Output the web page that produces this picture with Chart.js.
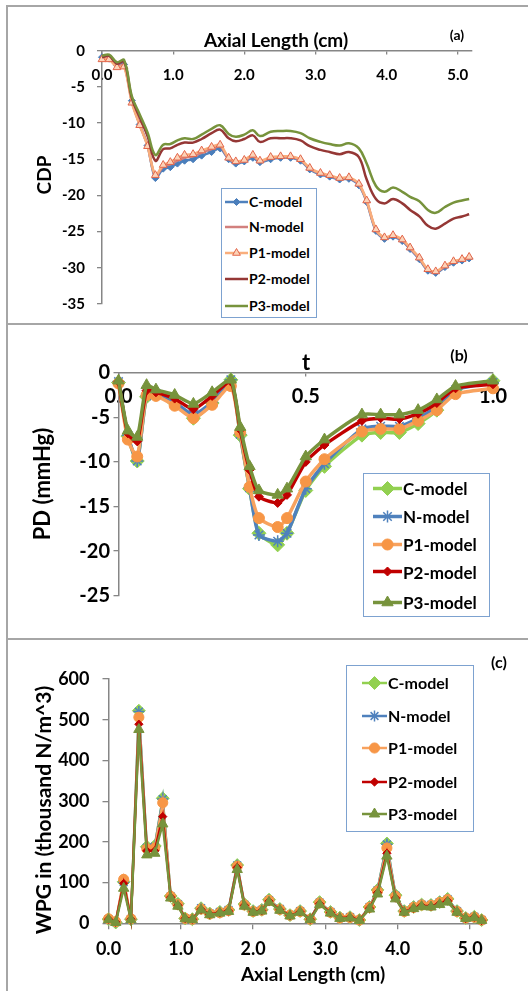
<!DOCTYPE html>
<html><head><meta charset="utf-8">
<script src="https://cdn.jsdelivr.net/npm/chart.js@4"></script>
<style>
html,body{margin:0;padding:0;background:#fff;}
body{width:528px;height:991px;position:relative;overflow:hidden;font-family:Lato,'Open Sans',sans-serif;}
.panel{position:absolute;left:6px;width:560px;border:2px solid #a6a6a6;box-sizing:border-box;}
canvas{position:absolute;left:0;}
.t{position:absolute;font-weight:bold;color:#000;white-space:nowrap;line-height:1;transform:translate(-50%,-50%);}
.vt{position:absolute;font-weight:bold;color:#000;white-space:nowrap;line-height:1;transform:translate(-50%,-50%) rotate(-90deg);}
.legend{position:absolute;border:1.5px solid #7da2d0;box-sizing:border-box;background:#fff;}
.lrow{position:absolute;display:flex;align-items:center;font-weight:bold;white-space:nowrap;line-height:1;transform:translateY(-50%);color:#000;}
.lrow svg{display:block;}
</style></head>
<body>
<div class="panel" style="top:5px;height:320px"></div>
<div class="panel" style="top:323px;height:317px"></div>
<div class="panel" style="top:638px;height:360px"></div>
<canvas id="ca" width="528" height="325" style="top:0"></canvas>
<canvas id="cb" width="528" height="315" style="top:325px"></canvas>
<canvas id="cc" width="528" height="351" style="top:640px"></canvas>

<div class="t" style="left:276px;top:39px;font-size:19px">Axial Length (cm)</div>
<div class="vt" style="left:43px;top:175px;font-size:19px">CDP</div>
<div class="t" style="left:457px;top:35px;font-size:14px">(a)</div>

<div class="t" style="left:306px;top:362px;font-size:22px">t</div>
<div class="vt" style="left:42px;top:484px;font-size:22px">PD (mmHg)</div>
<div class="t" style="left:459px;top:355px;font-size:16px">(b)</div>

<div class="t" style="left:313px;top:973px;font-size:19px">Axial Length (cm)</div>
<div class="vt" style="left:42px;top:810px;font-size:21px">WPG in (thousand N/m^3)</div>
<div class="t" style="left:499px;top:662px;font-size:16px">(c)</div>

<script>
// ---------- data ----------
const seriesNames = ['C-model','N-model','P1-model','P2-model','P3-model'];

// panel (a): CDP vs axial length
const axialX = [0,0.1,0.21,0.31,0.42,0.53,0.64,0.75,0.86,0.96,1.06,1.16,1.28,1.40,1.54,1.66,1.78,1.88,2.0,2.12,2.22,2.37,2.51,2.65,2.79,2.92,3.07,3.2,3.34,3.47,3.61,3.72,3.85,3.97,4.09,4.22,4.33,4.46,4.58,4.69,4.82,4.94,5.06,5.16];
const cdpC  = [-0.9,-1.1,-2.0,-1.9,-6.9,-10.2,-13.1,-17.6,-16.3,-16.1,-15.6,-15.2,-15.0,-14.5,-14.0,-13.5,-15.0,-15.6,-15.3,-14.8,-15.4,-15.0,-14.8,-14.8,-15.2,-16.4,-17.1,-17.4,-17.8,-17.7,-18.6,-20.9,-24.9,-26.0,-25.7,-26.3,-27.4,-28.8,-30.4,-30.7,-29.9,-29.3,-29.0,-28.7];
const cdpN  = [-1.0,-1.1,-2.1,-2.0,-7.0,-10.2,-13.1,-17.4,-16.0,-15.7,-15.2,-14.8,-14.6,-14.1,-13.6,-13.2,-14.9,-15.4,-15.2,-14.6,-15.3,-14.8,-14.7,-14.7,-15.1,-16.3,-17.0,-17.3,-17.7,-17.6,-18.5,-20.8,-24.8,-25.9,-25.6,-26.2,-27.3,-28.7,-30.3,-30.6,-29.8,-29.2,-28.9,-28.6];
const cdpP1 = [-1.2,-1.2,-2.3,-2.2,-7.2,-10.3,-13.2,-17.2,-15.8,-15.4,-14.8,-14.4,-14.3,-13.8,-13.3,-13.0,-14.8,-15.3,-15.1,-14.4,-15.2,-14.7,-14.6,-14.6,-15.0,-16.2,-16.9,-17.2,-17.6,-17.5,-18.4,-20.7,-24.7,-25.8,-25.5,-26.1,-27.2,-28.6,-30.2,-30.5,-29.7,-29.1,-28.8,-28.5];
const cdpP2 = [-0.9,-0.7,-1.8,-1.5,-6.6,-9.2,-11.8,-15.2,-13.6,-13.5,-13.0,-12.7,-12.7,-12.2,-11.4,-10.9,-12.1,-12.5,-12.2,-11.7,-12.6,-12.1,-12.1,-12.1,-12.4,-13.2,-13.7,-14.0,-14.3,-14.0,-14.7,-17.8,-20.5,-21.1,-20.5,-21.1,-22.0,-22.9,-24.2,-24.6,-23.9,-23.2,-22.9,-22.6];
const cdpP3 = [-0.7,-0.55,-1.6,-1.3,-6.3,-8.8,-11.3,-14.4,-13.0,-12.9,-12.4,-12.1,-12.2,-11.6,-10.8,-10.3,-11.5,-11.9,-11.6,-11.0,-11.8,-11.2,-11.1,-11.1,-11.4,-12.1,-12.6,-12.9,-13.1,-12.8,-13.5,-15.6,-18.7,-19.5,-18.9,-19.5,-20.2,-20.8,-22.0,-22.4,-21.6,-21.0,-20.7,-20.5];
const cdpXTicks = [0,1,2,3,4,5];
const cdpYTicks = [0,-5,-10,-15,-20,-25,-30,-35];

// panel (b): PD vs t
const tVals = [0,0.025,0.05,0.075,0.1,0.15,0.2,0.25,0.3,0.325,0.35,0.375,0.425,0.45,0.5,0.55,0.65,0.7,0.75,0.8,0.85,0.9,1.0];
const pdC  = [-1.1,-7.1,-9.9,-2.7,-2.4,-3.4,-5.1,-3.4,-0.8,-7.0,-13.0,-18.0,-19.3,-18.0,-13.2,-10.5,-7.0,-6.7,-6.7,-5.7,-4.2,-1.9,-0.9];
const pdN  = [-1.0,-7.0,-9.9,-2.6,-2.3,-3.3,-4.7,-3.3,-0.8,-6.9,-12.9,-18.2,-18.9,-18.0,-13.0,-10.2,-6.3,-6.0,-6.0,-5.1,-3.8,-1.9,-1.1];
const pdP1 = [-1.2,-7.5,-9.4,-2.5,-2.6,-3.7,-5.1,-3.6,-1.5,-6.7,-12.8,-16.3,-17.3,-16.3,-12.2,-9.7,-6.6,-6.3,-6.3,-5.4,-4.2,-2.4,-1.75];
const pdP2 = [-1.0,-6.8,-7.7,-2.0,-2.2,-2.9,-4.1,-2.6,-1.0,-6.4,-10.9,-13.9,-14.6,-13.7,-10.0,-8.1,-5.4,-5.1,-5.2,-4.6,-3.4,-1.75,-1.3];
const pdP3 = [-0.9,-6.5,-7.2,-1.4,-1.9,-2.5,-3.5,-2.2,-0.8,-6.1,-10.5,-13.2,-13.7,-13.0,-9.4,-7.5,-4.7,-4.7,-4.7,-4.2,-3.0,-1.5,-0.9];
const pdXTicks = [0,0.5,1];
const pdYTicks = [0,-5,-10,-15,-20,-25];

// panel (c): WPG vs axial length (thousand N/m^3)
const wpgC  = [10,2,102,10,522,188,190,307,67,48,12,10,37,24,28,33,143,47,30,33,58,35,20,30,10,52,28,14,15,8,40,82,196,69,30,40,46,45,52,60,30,13,16,8];
const wpgN  = [10,3,101,10,520,186,188,305,66,47,12,10,37,24,28,33,142,46,30,33,57,35,20,30,10,51,28,14,15,8,40,81,194,68,30,40,46,45,52,59,30,13,16,8];
const wpgP1 = [11,4,108,11,506,183,185,296,66,46,12,10,35,23,26,31,140,45,29,32,56,34,20,29,10,50,27,13,14,8,39,79,185,66,29,39,45,44,51,58,29,13,15,8];
const wpgP2 = [10,3,98,10,489,178,178,262,64,44,12,10,34,22,26,30,137,44,28,31,54,33,19,28,10,48,26,13,14,8,37,75,172,62,28,37,43,42,48,55,28,12,15,7];
const wpgP3 = [9,2,86,9,476,168,172,244,62,42,11,9,33,21,25,29,132,42,27,30,52,32,18,27,9,46,25,12,13,7,35,72,165,60,27,36,41,40,46,52,27,12,14,7];
const wpgXTicks = [0,1,2,3,4,5];
const wpgYTicks = [0,100,200,300,400,500,600];

// ---------- helpers ----------
Chart.defaults.font.family = 'Lato';
Chart.defaults.animation = false;
const AX = '#868686';
const pts = (xs, ys) => xs.map((x, i) => ({x: x, y: ys[i]}));

function scale(o){
  return {
    type:'linear', position:o.pos, min:o.min, max:o.max,
    afterBuildTicks: s => { s.ticks = o.ticks.map(v => ({value:v})); },
    afterFit: s => { if (o.w !== undefined) s.width = o.w; if (o.h !== undefined) s.height = o.h; },
    ticks:{callback:o.fmt, font:{family:'Lato',weight:'bold',size:o.fs}, color:'#000', padding:o.pad, autoSkip:false, maxRotation:0, minRotation:0},
    grid:{drawOnChartArea:false, tickLength:o.tl, color:AX, tickColor:AX, lineWidth:1.3},
    border:{display:true, color:AX, width:1.5}
  };
}

function ds(label, data, st, order){
  return Object.assign({label:label, data:data, order:order, clip:false, fill:false, spanGaps:true}, st);
}

function makeChart(id, datasets, xs, ys, padding){
  return new Chart(document.getElementById(id), {
    type:'line',
    data:{datasets:datasets},
    options:{
      responsive:false, animation:false,
      layout:{padding:padding},
      plugins:{legend:{display:false}, tooltip:{enabled:false}},
      scales:{x:xs, y:ys}
    }
  });
}

// ---------- styles ----------
const stA = [
  {borderColor:'#4F81BD', borderWidth:2.5, tension:0.3, pointStyle:'rectRot', pointRadius:3.5, pointBackgroundColor:'#4A7EBB', pointBorderColor:'#4A7EBB', pointBorderWidth:1},
  {borderColor:'#D2807E', borderWidth:2.5, tension:0.3, pointRadius:0},
  {borderColor:'#F9AE7C', borderWidth:2.5, tension:0.3, pointStyle:'triangle', pointRadius:4.5, pointBackgroundColor:'#FCD3B8', pointBorderColor:'#E2654A', pointBorderWidth:1},
  {borderColor:'#953735', borderWidth:2.5, tension:0.4, pointRadius:0},
  {borderColor:'#77933C', borderWidth:2.5, tension:0.4, pointRadius:0}
];
const stB = [
  {borderColor:'#92D050', borderWidth:3.5, tension:0.2, pointStyle:'rectRot', pointRadius:7, pointBackgroundColor:'#92D050', pointBorderColor:'#92D050', pointBorderWidth:1},
  {borderColor:'#4F81BD', borderWidth:3.5, tension:0.2, pointStyle:'star', pointRadius:6, pointBackgroundColor:'#4F81BD', pointBorderColor:'#4F81BD', pointBorderWidth:1.5},
  {borderColor:'#F8A25E', borderWidth:3.5, tension:0.2, pointStyle:'circle', pointRadius:5.5, pointBackgroundColor:'#F79646', pointBorderColor:'#F79646', pointBorderWidth:1},
  {borderColor:'#C00000', borderWidth:3.5, tension:0.2, pointStyle:'rectRot', pointRadius:4.5, pointBackgroundColor:'#C00000', pointBorderColor:'#C00000', pointBorderWidth:1},
  {borderColor:'#77933C', borderWidth:3.5, tension:0.2, pointStyle:'triangle', pointRadius:6.5, pointBackgroundColor:'#77933C', pointBorderColor:'#77933C', pointBorderWidth:1}
];
const stC = stB.map(s => Object.assign({}, s, {tension:0, borderWidth:2.5, pointRadius:s.pointRadius*0.92}));

// ---------- panel (a) ----------
const aSeries = [cdpC, cdpN, cdpP1, cdpP2, cdpP3];
makeChart('ca',
  aSeries.map((arr, i) => ds(seriesNames[i], pts(axialX, arr), stA[i], 5 - i)),
  scale({pos:{y:0}, min:0, max:5.2, ticks:cdpXTicks, fmt:v => v.toFixed(1), fs:15, pad:12, tl:3}),
  scale({pos:'left', min:-35, max:0, ticks:cdpYTicks, fmt:v => String(v), fs:15, pad:12, tl:5, w:102}),
  {left:0, top:50.7, right:56, bottom:11});

// ---------- panel (b) ----------
const bSeries = [pdC, pdN, pdP1, pdP2, pdP3];
makeChart('cb',
  bSeries.map((arr, i) => ds(seriesNames[i], pts(tVals, arr), stB[i], 5 - i)),
  scale({pos:{y:0}, min:0, max:1, ticks:pdXTicks, fmt:v => v.toFixed(1), fs:20, pad:9, tl:3}),
  scale({pos:'left', min:-25, max:0, ticks:pdYTicks, fmt:v => String(v), fs:20, pad:3.5, tl:5, w:118.5}),
  {left:0, top:47.7, right:35, bottom:44.3});

// ---------- panel (c) ----------
const cSeries = [wpgC, wpgN, wpgP1, wpgP2, wpgP3];
makeChart('cc',
  cSeries.map((arr, i) => ds(seriesNames[i], pts(axialX, arr), stC[i], 5 - i)),
  scale({pos:'bottom', min:0, max:5.2, ticks:wpgXTicks, fmt:v => v.toFixed(1), fs:18, pad:9.2, tl:6, h:67.7}),
  scale({pos:'left', min:0, max:600, ticks:wpgYTicks, fmt:v => String(v), fs:18, pad:13, tl:6, w:108.5}),
  {left:0, top:39, right:43.5, bottom:0});

// ---------- legends (HTML, real text) ----------
function markerSvg(st, w, h){
  const cx = w/2, cy = h/2, r = st.pointRadius || 0;
  const f = st.pointBackgroundColor, s = st.pointBorderColor, sw = st.pointBorderWidth || 1;
  let shape = '';
  if (r > 0) {
    if (st.pointStyle === 'rectRot') shape = `<polygon points="${cx},${cy-r} ${cx+r},${cy} ${cx},${cy+r} ${cx-r},${cy}" fill="${f}" stroke="${s}" stroke-width="${sw}"/>`;
    else if (st.pointStyle === 'circle') shape = `<circle cx="${cx}" cy="${cy}" r="${r}" fill="${f}" stroke="${s}" stroke-width="${sw}"/>`;
    else if (st.pointStyle === 'triangle') shape = `<polygon points="${cx},${cy-r} ${cx+0.866*r},${cy+0.5*r} ${cx-0.866*r},${cy+0.5*r}" fill="${f}" stroke="${s}" stroke-width="${sw}"/>`;
    else if (st.pointStyle === 'star') { const d = r*0.707; shape = `<g stroke="${s}" stroke-width="${sw}"><line x1="${cx}" y1="${cy-r}" x2="${cx}" y2="${cy+r}"/><line x1="${cx-r}" y1="${cy}" x2="${cx+r}" y2="${cy}"/><line x1="${cx-d}" y1="${cy-d}" x2="${cx+d}" y2="${cy+d}"/><line x1="${cx-d}" y1="${cy+d}" x2="${cx+d}" y2="${cy-d}"/></g>`; }
  }
  return `<svg width="${w}" height="${h}" style="overflow:visible"><line x1="0" y1="${cy}" x2="${w}" y2="${cy}" stroke="${st.borderColor}" stroke-width="${st.borderWidth}"/>${shape}</svg>`;
}
function legend(box, rows, styles, sampleX, sampleW, textGap, fs){
  const b = document.createElement('div');
  b.className = 'legend';
  Object.assign(b.style, {left:box[0]+'px', top:box[1]+'px', width:(box[2]-box[0])+'px', height:(box[3]-box[1])+'px'});
  document.body.appendChild(b);
  rows.forEach((cy, i) => {
    const r = document.createElement('div');
    r.className = 'lrow';
    r.style.left = sampleX + 'px'; r.style.top = cy + 'px'; r.style.fontSize = fs + 'px';
    r.innerHTML = markerSvg(styles[i], sampleW, 16) + `<span style="margin-left:${textGap}px">${seriesNames[i]}</span>`;
    document.body.appendChild(r);
  });
}
legend([221,188,317,318], [201.7,227.3,253.3,279,305.7], stA, 225, 23, 1, 14);
legend([363,473,490,617], [488.3,516,544,571.7,602.3], stB, 373, 29, 1, 17);
legend([346,665,474,832], [682.7,716,748.3,781.7,814], stC, 362, 25, 1, 16);
</script>
</body></html>
